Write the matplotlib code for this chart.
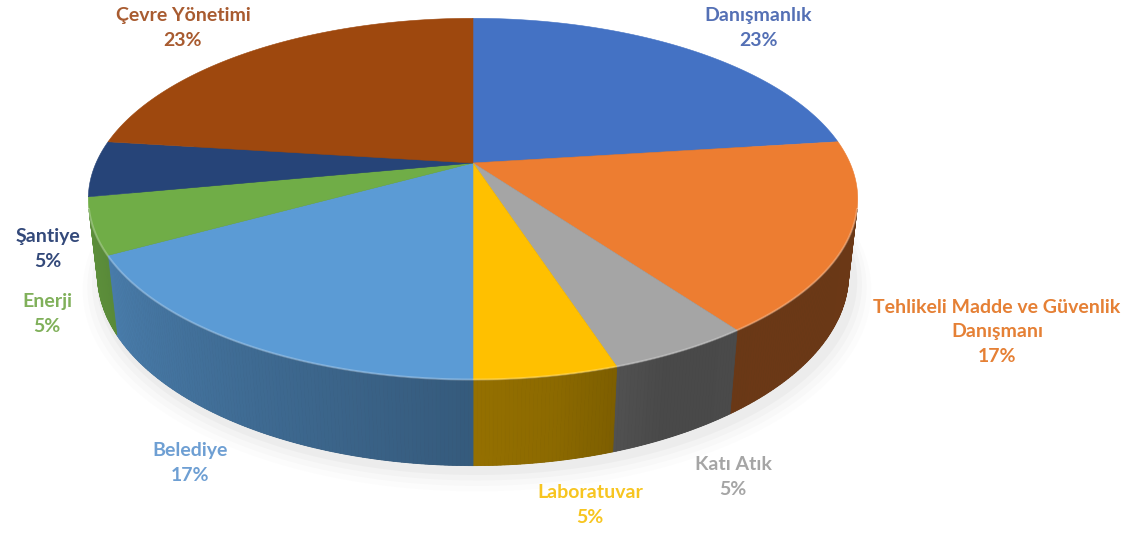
"""3D pie chart of service areas (matplotlib only)."""

import numpy as np
import matplotlib.pyplot as plt
from matplotlib.patches import Polygon
from matplotlib.colors import to_rgb

labels = [
    "Danışmanlık",
    "Tehlikeli Madde ve Güvenlik\nDanışmanı",
    "Katı Atık",
    "Laboratuvar",
    "Belediye",
    "Enerji",
    "Şantiye",
    "Çevre Yönetimi",
]
shares = [23, 17, 5, 5, 17, 5, 5, 23]
colors = ["#4472C4", "#ED7D31", "#A5A5A5", "#FFC000",
          "#5B9BD5", "#70AD47", "#264478", "#9E480E"]
label_colors = ["#5470B5", "#E58035", "#A5A5A5", "#F7C520",
                "#6E9FD3", "#80B05A", "#33497A", "#A85B30"]
# label anchor positions in pixels (x, y of text centre)
label_pos = [(758, 28), (997, 332), (733, 477), (590, 505),
             (190, 463), (47, 314), (48, 249), (183, 28)]

# perspective set-up (fitted to the picture)
ELEV = np.radians(27.4)
DIST = 4.46
THICK = 0.227
SCALE = 377
CX, CY = 473, 163


def project(t, z=0.0, r=1.0):
    x, y = r * np.cos(t), r * np.sin(t)
    depth = 1 + (y * np.cos(ELEV) - z * np.sin(ELEV)) / DIST
    sx = x / depth
    sy = (y * np.sin(ELEV) + z * np.cos(ELEV)) / depth
    return CX + SCALE * sx, CY - SCALE * sy


def shade(rgb, f):
    return tuple(np.clip(np.array(rgb) * f, 0, 1))


fig = plt.figure(figsize=(11.42, 5.35), dpi=100)
ax = fig.add_axes([0, 0, 1, 1])
ax.set_xlim(0, 1142)
ax.set_ylim(535, 0)
ax.axis("off")

bounds = 90 - np.concatenate([[0], np.cumsum(shares)]) * 3.6

# soft shadow under the disc
tt = np.radians(np.linspace(0, 360, 361))
for i, a in enumerate([0.05, 0.04, 0.03, 0.02]):
    sx, sy = project(tt, -THICK, 1.0 + 0.012 * (i + 1))
    ax.add_patch(Polygon(np.column_stack([sx + 4, sy + 6 + 2 * i]), closed=True,
                         facecolor="#808080", edgecolor="none", alpha=a, zorder=1))

# bottom face
bx, by = project(tt, -THICK)
ax.add_patch(Polygon(np.column_stack([bx, by]), closed=True,
                     facecolor="#3a3a3a", edgecolor="none", zorder=2))

# visible outer side
vis = np.degrees(np.arcsin(1 / (DIST * np.cos(ELEV))))
lo, hi = -180 + vis, -vis
shade_t = [-180, -150, -95, -80, -65, -50, 0]
shade_f = [0.86, 0.80, 0.60, 0.55, 0.44, 0.45, 0.45]
for k in range(len(shares)):
    a0, a1 = bounds[k + 1], bounds[k]
    s0, s1 = max(a0, lo), min(a1, hi)
    if s0 >= s1:
        continue
    base = to_rgb(colors[k])
    edges = np.linspace(s0, s1, max(2, int((s1 - s0) / 0.5) + 1))
    for e0, e1 in zip(edges[:-1], edges[1:]):
        t = np.radians([e0, e1])
        x0, y0 = project(t, 0.0)
        x1, y1 = project(t[::-1], -THICK)
        c = shade(base, np.interp(0.5 * (e0 + e1), shade_t, shade_f))
        ax.add_patch(Polygon(np.column_stack([np.r_[x0, x1], np.r_[y0, y1]]),
                             closed=True, facecolor=c, edgecolor=c,
                             linewidth=0.6, zorder=3))

# top face wedges
for k in range(len(shares)):
    t = np.radians(np.linspace(bounds[k], bounds[k + 1], 200))
    x, y = project(t, 0.0)
    pts = np.column_stack([np.r_[CX, x], np.r_[CY, y]])
    ax.add_patch(Polygon(pts, closed=True, facecolor=colors[k],
                         edgecolor=colors[k], linewidth=0.4, zorder=4))

# light rim on the front edge
t = np.radians(np.linspace(lo, hi, 300))
rx, ry = project(t, 0.0)
ax.plot(rx, ry, color="white", alpha=0.25, linewidth=1.5, zorder=5)

for lab, sh, col, (px, py) in zip(labels, shares, label_colors, label_pos):
    ax.text(px, py, f"{lab}\n{sh}%", ha="center", va="center",
            fontsize=14, fontweight="bold", color=col, family="Lato",
            linespacing=1.55, zorder=6)

fig.savefig("out.png", dpi=100)
